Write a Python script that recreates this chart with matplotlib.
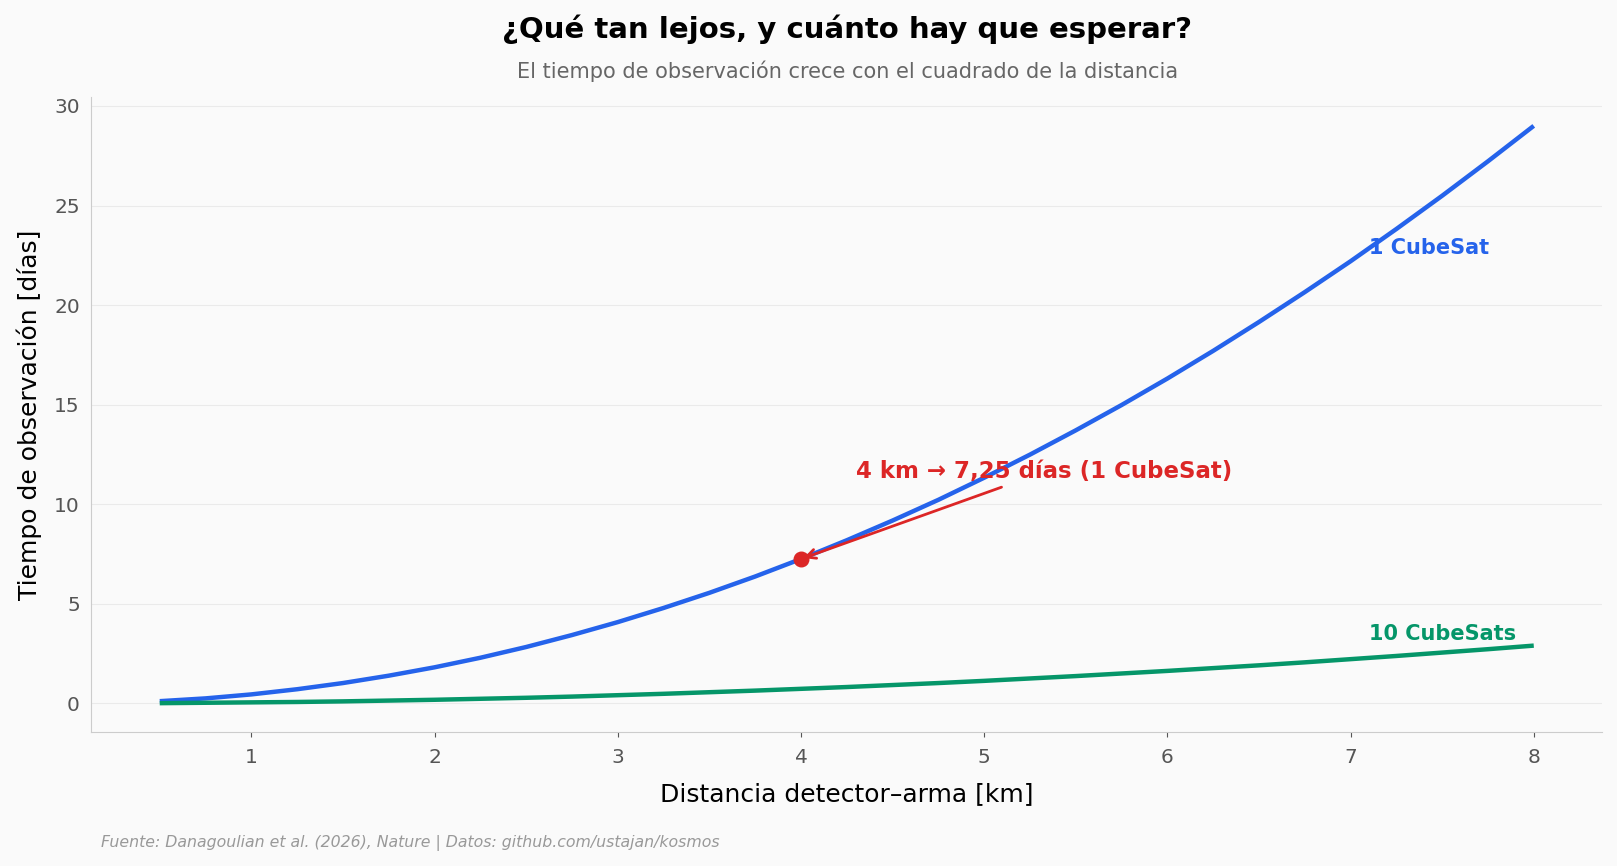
import matplotlib
matplotlib.use('Agg')
import matplotlib.pyplot as plt

# distancia [km] y tiempo de observación [días]
distancia = [0.5, 0.75, 1.0, 1.25, 1.5, 1.75, 2.0, 2.25, 2.5, 2.75, 3.0, 3.25, 3.5, 3.75, 4.0,
             4.25, 4.5, 4.75, 5.0, 5.25, 5.5, 5.75, 6.0, 6.25, 6.5, 6.75, 7.0, 7.25, 7.5, 7.75, 8.0]
tiempo_1 = [0.11, 0.25, 0.45, 0.71, 1.02, 1.39, 1.81, 2.29, 2.83, 3.43, 4.08, 4.79, 5.55, 6.37, 7.25,
            8.19, 9.18, 10.22, 11.33, 12.49, 13.71, 14.98, 16.31, 17.70, 19.15, 20.65, 22.20, 23.82,
            25.49, 27.22, 29.00]
tiempo_10 = [0.01, 0.03, 0.05, 0.07, 0.10, 0.14, 0.18, 0.23, 0.28, 0.34, 0.41, 0.48, 0.56, 0.64, 0.73,
             0.82, 0.92, 1.02, 1.13, 1.25, 1.37, 1.50, 1.63, 1.77, 1.91, 2.06, 2.22, 2.38, 2.55, 2.72,
             2.90]
punto_km = 4.0
punto_dias = 7.25

AZUL = '#2563eb'
VERDE = '#059669'
ROJO = '#dc2626'
FONDO = '#fafafa'

fig = plt.figure(figsize=(16.17, 8.66), dpi=100, facecolor=FONDO)
ax = fig.add_axes([0.0563, 0.1547, 0.9347, 0.7333])
ax.set_facecolor(FONDO)

ax.plot(distancia, tiempo_1, color=AZUL, lw=3.2, solid_capstyle='butt')
ax.plot(distancia, tiempo_10, color=VERDE, lw=3.2, solid_capstyle='butt')

ax.text(7.1, 22.85, '1 CubeSat', color=AZUL, fontsize=15, fontweight='bold', va='center')
ax.text(7.1, 3.5, '10 CubeSats', color=VERDE, fontsize=15, fontweight='bold', va='center')

ax.scatter([punto_km], [punto_dias], color=ROJO, s=110, zorder=5)
ax.annotate('4 km → 7,25 días (1 CubeSat)', xy=(punto_km, punto_dias), xytext=(4.3, 11.62),
            color=ROJO, fontsize=16.5, fontweight='bold', va='center',
            arrowprops=dict(arrowstyle='->', color=ROJO, lw=2))

ax.set_xlabel('Distancia detector–arma [km]', fontsize=18, labelpad=11)
ax.set_ylabel('Tiempo de observación [días]', fontsize=18, labelpad=9)
ax.tick_params(axis='both', labelsize=14.5, labelcolor='#555555', color='#555555')
ax.tick_params(axis='y', length=0, pad=8)
ax.tick_params(axis='x', pad=8)
ax.grid(axis='y', color='#eaeaea', lw=0.8)
ax.set_axisbelow(True)
for s in ['top', 'right']:
    ax.spines[s].set_visible(False)
for s in ['left', 'bottom']:
    ax.spines[s].set_color('#cccccc')

fig.text(0.524, 0.966, '¿Qué tan lejos, y cuánto hay que esperar?', ha='center', va='center',
         fontsize=21, fontweight='bold')
fig.text(0.524, 0.918, 'El tiempo de observación crece con el cuadrado de la distancia',
         ha='center', va='center', fontsize=15, color='#666666')
fig.text(0.0625, 0.027, 'Fuente: Danagoulian et al. (2026), Nature | Datos: github.com/ustajan/kosmos',
         fontsize=11.3, style='italic', color='#999999', va='center')

fig.savefig('out.png', dpi=100, facecolor=FONDO)
